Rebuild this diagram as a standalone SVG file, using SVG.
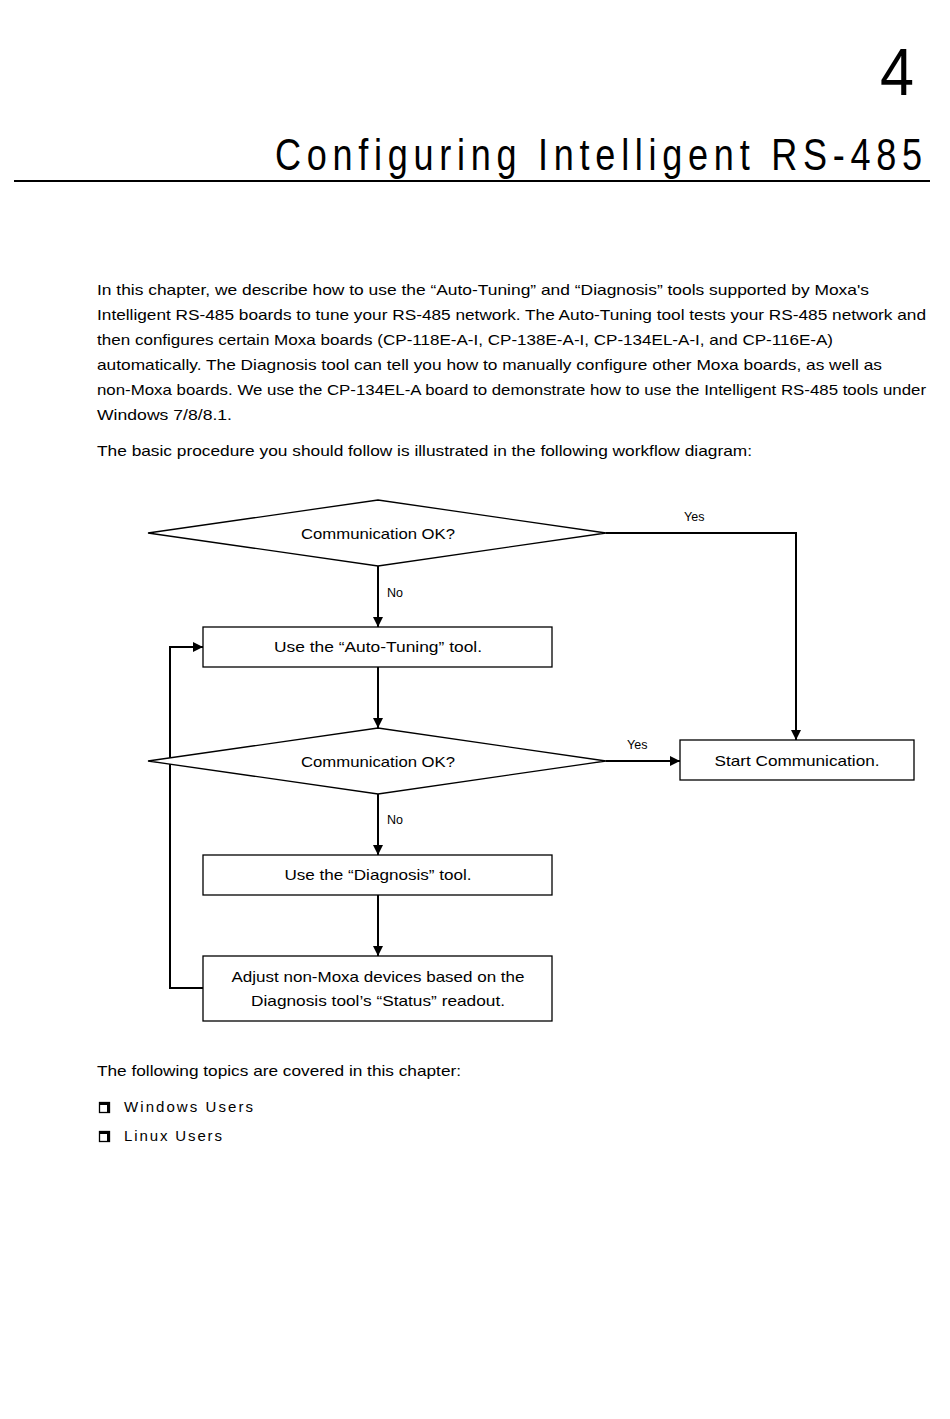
<svg xmlns="http://www.w3.org/2000/svg" width="950" height="1419" viewBox="0 0 950 1419">
<defs>
<marker id="arr" viewBox="0 0 10 10" refX="10" refY="5" markerWidth="10" markerHeight="10" markerUnits="userSpaceOnUse" orient="auto">
<path d="M0,0 L10,5 L0,10 z" fill="#000"/>
</marker>
</defs>
<style>
text{font-family:"Liberation Sans",Arial,sans-serif;fill:#000}
.p{font-size:15px}
.d{font-size:14.5px}
.s{font-size:12.5px}
.n{fill:#fff;stroke:#000;stroke-width:1.3}
.c{fill:none;stroke:#000;stroke-width:2;marker-end:url(#arr)}
</style>
<rect width="950" height="1419" fill="#fff"/>
<g id="header">
<text x="914" y="95" font-size="66" text-anchor="end" textLength="34" lengthAdjust="spacingAndGlyphs">4</text>
<text transform="scale(0.82,1)" x="335.4" y="170" font-size="44" textLength="789" lengthAdjust="spacing">Configuring Intelligent RS-485</text>
<line x1="14" y1="181" x2="930" y2="181" stroke="#000" stroke-width="2"/>
</g>
<g id="intro">
<text class="p" x="97" y="295" textLength="772" lengthAdjust="spacingAndGlyphs">In this chapter, we describe how to use the “Auto-Tuning” and “Diagnosis” tools supported by Moxa's</text>
<text class="p" x="97" y="320" textLength="829" lengthAdjust="spacingAndGlyphs">Intelligent RS-485 boards to tune your RS-485 network. The Auto-Tuning tool tests your RS-485 network and</text>
<text class="p" x="97" y="345" textLength="736" lengthAdjust="spacingAndGlyphs">then configures certain Moxa boards (CP-118E-A-I, CP-138E-A-I, CP-134EL-A-I, and CP-116E-A)</text>
<text class="p" x="97" y="370" textLength="785" lengthAdjust="spacingAndGlyphs">automatically. The Diagnosis tool can tell you how to manually configure other Moxa boards, as well as</text>
<text class="p" x="97" y="395" textLength="829" lengthAdjust="spacingAndGlyphs">non-Moxa boards. We use the CP-134EL-A board to demonstrate how to use the Intelligent RS-485 tools under</text>
<text class="p" x="97" y="420" textLength="135" lengthAdjust="spacingAndGlyphs">Windows 7/8/8.1.</text>
<text class="p" x="97" y="456" textLength="655" lengthAdjust="spacingAndGlyphs">The basic procedure you should follow is illustrated in the following workflow diagram:</text>
</g>
<g id="connectors">
<polyline class="c" points="606,533 796,533 796,740"/>
<line class="c" x1="378" y1="566" x2="378" y2="627"/>
<line class="c" x1="378" y1="667" x2="378" y2="728"/>
<line class="c" x1="606" y1="761" x2="680" y2="761"/>
<line class="c" x1="378" y1="794" x2="378" y2="855"/>
<line class="c" x1="378" y1="895" x2="378" y2="956"/>
<polyline class="c" points="203,988 170,988 170,647 203,647"/>
<text class="s" x="684" y="521">Yes</text>
<text class="s" x="387" y="597">No</text>
<text class="s" x="627" y="749">Yes</text>
<text class="s" x="387" y="824">No</text>
</g>
<g id="decision1">
<polygon class="n" points="148,533 378,500 606,533 378,566"/>
<text class="d" x="378" y="539" text-anchor="middle" textLength="154" lengthAdjust="spacingAndGlyphs">Communication OK?</text>
</g>
<g id="autotuning">
<rect class="n" x="203" y="627" width="349" height="40"/>
<text class="d" x="378" y="652" text-anchor="middle" textLength="208" lengthAdjust="spacingAndGlyphs">Use the “Auto-Tuning” tool.</text>
</g>
<g id="decision2">
<polygon class="n" points="148,761 378,728 606,761 378,794"/>
<text class="d" x="378" y="767" text-anchor="middle" textLength="154" lengthAdjust="spacingAndGlyphs">Communication OK?</text>
</g>
<g id="start">
<rect class="n" x="680" y="740" width="234" height="40"/>
<text class="d" x="797" y="766" text-anchor="middle" textLength="165" lengthAdjust="spacingAndGlyphs">Start Communication.</text>
</g>
<g id="diagnosis">
<rect class="n" x="203" y="855" width="349" height="40"/>
<text class="d" x="378" y="880" text-anchor="middle" textLength="187" lengthAdjust="spacingAndGlyphs">Use the “Diagnosis” tool.</text>
</g>
<g id="adjust">
<rect class="n" x="203" y="956" width="349" height="65"/>
<text class="d" x="378" y="982" text-anchor="middle" textLength="293" lengthAdjust="spacingAndGlyphs">Adjust non-Moxa devices based on the</text>
<text class="d" x="378" y="1006" text-anchor="middle" textLength="254" lengthAdjust="spacingAndGlyphs">Diagnosis tool’s “Status” readout.</text>
</g>
<g id="topics">
<text class="p" x="97" y="1076" textLength="364" lengthAdjust="spacingAndGlyphs">The following topics are covered in this chapter:</text>
<rect x="99.5" y="1102.5" width="10" height="10" fill="none" stroke="#000" stroke-width="1.3"/>
<rect x="99.5" y="1102.5" width="10" height="2.5" fill="#000"/>
<rect x="107" y="1102.5" width="2.5" height="10" fill="#000"/>
<text class="p" x="124" y="1112" textLength="129" lengthAdjust="spacing">Windows Users</text>
<rect x="99.5" y="1131.5" width="10" height="10" fill="none" stroke="#000" stroke-width="1.3"/>
<rect x="99.5" y="1131.5" width="10" height="2.5" fill="#000"/>
<rect x="107" y="1131.5" width="2.5" height="10" fill="#000"/>
<text class="p" x="124" y="1141" textLength="98" lengthAdjust="spacing">Linux Users</text>
</g>
</svg>
